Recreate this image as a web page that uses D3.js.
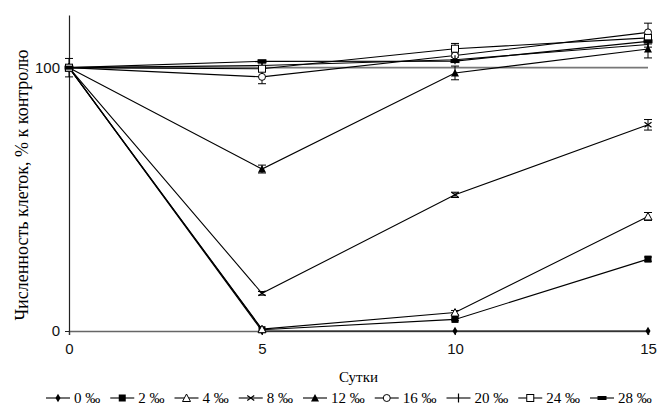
<!DOCTYPE html>
<html>
<head>
<meta charset="utf-8">
<script src="https://cdn.jsdelivr.net/npm/d3@7"></script>
<style>
  body { margin: 0; background: #fff; }
  svg { font-family: "Liberation Serif", "Times New Roman", serif; }
</style>
</head>
<body>
<svg id="chart" width="658" height="414"></svg>
<script>
// days on x, cell count as % of control on y
const days = [0, 5, 10, 15];
const seriesNames = ["0 ‰", "2 ‰", "4 ‰", "8 ‰", "12 ‰", "16 ‰", "20 ‰", "24 ‰", "28 ‰"];
const markerTypes = ["diamond", "square", "triangleOpen", "cross", "triangle", "circleOpen", "plus", "squareOpen", "dash"];

const s0  = [100, 0,    0,     0];
const s2  = [100, 0.5,  4.4,   27.3];
const s4  = [100, 0.7,  7.0,   43.5];
const s8  = [100, 14.3, 51.7,  78.3];
const s12 = [100, 61.5, 98.0,  107.1];
const s16 = [100, 96.5, 104.6, 113.4];
const s20 = [100, 100.8, 103.0, 108.8];
const s24 = [100, 99.6, 107.2, 111.3];
const s28 = [100, 102.4, 102.5, 110.0];

const e0  = [0, 0, 0, 0];
const e2  = [0, 0, 0.5, 0.8];
const e4  = [0, 0, 0.8, 1.5];
const e8  = [0, 0.7, 1.0, 2.0];
const e12 = [3.5, 1.5, 2.6, 3.4];
const e16 = [0, 2.6, 1.5, 3.5];
const e20 = [0, 1.0, 1.0, 1.0];
const e24 = [0, 1.0, 2.0, 1.0];
const e28 = [0, 0.5, 0.5, 1.0];

const yTicks = [0, 100];
const xTicks = [0, 5, 10, 15];

const allValues = [s0, s2, s4, s8, s12, s16, s20, s24, s28];
const allErrors = [e0, e2, e4, e8, e12, e16, e20, e24, e28];

const svg = d3.select("#chart");
const margin = { top: 15, left: 69, right: 648, bottom: 331 };

const x = d3.scaleLinear().domain([0, 15]).range([margin.left, margin.right]);
const y = d3.scaleLinear().domain([0, 120]).range([margin.bottom, margin.top]);

const series = seriesNames.map((name, i) => ({
  name, marker: markerTypes[i],
  points: days.map((d, j) => ({ day: d, value: allValues[i][j], err: allErrors[i][j] }))
}));

// control line at 100
svg.append("line")
  .attr("x1", x(0)).attr("x2", x(15))
  .attr("y1", y(100)).attr("y2", y(100))
  .attr("stroke", "#777").attr("stroke-width", 1.6);

// axes
const xAxis = svg.append("g")
  .attr("transform", `translate(0,${y(0)})`)
  .call(d3.axisBottom(x).tickValues(xTicks).tickSize(4).tickPadding(8));
xAxis.select(".domain").attr("stroke", "#666").attr("stroke-width", 1.6);
xAxis.selectAll("line").attr("stroke", "#333");
xAxis.selectAll("text").style("font-size", "15px").attr("fill", "#111");

const yAxis = svg.append("g")
  .attr("transform", `translate(${x(0)},0)`)
  .call(d3.axisLeft(y).tickValues(yTicks).tickSize(4).tickPadding(5).tickSizeOuter(0));
yAxis.select(".domain").attr("stroke", "#222").attr("stroke-width", 1.2);
yAxis.selectAll("line").attr("stroke", "#222");
yAxis.selectAll("text").style("font-size", "15px").attr("fill", "#111");

svg.append("text")
  .attr("x", (x(0) + x(15)) / 2)
  .attr("y", 382)
  .attr("text-anchor", "middle")
  .style("font-size", "15px")
  .text("Сутки");

svg.append("text")
  .attr("transform", "rotate(-90)")
  .attr("x", -185)
  .attr("y", 28)
  .attr("text-anchor", "middle")
  .style("font-size", "18px")
  .text("Численность клеток, % к контролю");

const line = d3.line().x(d => x(d.day)).y(d => y(d.value));

function drawMarker(g, type) {
  const s = 3.5;
  switch (type) {
    case "diamond":
      g.append("path").attr("d", d3.symbol(d3.symbolDiamond, 22)()).attr("fill", "#000");
      break;
    case "square":
      g.append("rect").attr("x", -s).attr("y", -s).attr("width", 2 * s).attr("height", 2 * s).attr("fill", "#000");
      break;
    case "squareOpen":
      g.append("rect").attr("x", -s).attr("y", -s).attr("width", 2 * s).attr("height", 2 * s)
        .attr("fill", "#fff").attr("stroke", "#000").attr("stroke-width", 1);
      break;
    case "triangle":
      g.append("path").attr("d", `M0,${-s - 0.5}L${s + 0.5},${s}L${-s - 0.5},${s}Z`).attr("fill", "#000");
      break;
    case "triangleOpen":
      g.append("path").attr("d", `M0,${-s - 0.5}L${s + 0.5},${s}L${-s - 0.5},${s}Z`)
        .attr("fill", "#fff").attr("stroke", "#000").attr("stroke-width", 1);
      break;
    case "circleOpen":
      g.append("circle").attr("r", s).attr("fill", "#fff").attr("stroke", "#000").attr("stroke-width", 1);
      break;
    case "cross":
      g.append("path").attr("d", `M${-s},${-s + 1}L${s},${s - 1}M${-s},${s - 1}L${s},${-s + 1}`)
        .attr("stroke", "#000").attr("stroke-width", 1.2);
      break;
    case "plus":
      g.append("path").attr("d", `M0,${-s - 1}L0,${s + 1}`).attr("stroke", "#000").attr("stroke-width", 1.2);
      break;
    case "dash":
      g.append("rect").attr("x", -s - 1).attr("y", -2).attr("width", 2 * s + 2).attr("height", 4).attr("fill", "#000");
      break;
  }
}

const plot = svg.append("g");

series.forEach(sr => {
  plot.append("path")
    .datum(sr.points)
    .attr("d", line)
    .attr("fill", "none")
    .attr("stroke", "#000")
    .attr("stroke-width", 1.1);
});

// error bars
series.forEach(sr => {
  sr.points.filter(p => p.err > 0).forEach(p => {
    const cx = x(p.day);
    const g = plot.append("g").attr("stroke", "#000").attr("stroke-width", 1);
    g.append("line").attr("x1", cx).attr("x2", cx).attr("y1", y(p.value + p.err)).attr("y2", y(p.value - p.err));
    g.append("line").attr("x1", cx - 4).attr("x2", cx + 4).attr("y1", y(p.value + p.err)).attr("y2", y(p.value + p.err));
    g.append("line").attr("x1", cx - 4).attr("x2", cx + 4).attr("y1", y(p.value - p.err)).attr("y2", y(p.value - p.err));
  });
});

series.forEach(sr => {
  sr.points.forEach(p => {
    const g = plot.append("g").attr("transform", `translate(${x(p.day)},${y(p.value)})`);
    drawMarker(g, sr.marker);
  });
});

// legend
const legend = svg.append("g").attr("transform", "translate(46,398)");
let lx = 0;
series.forEach(sr => {
  const item = legend.append("g").attr("transform", `translate(${lx},0)`);
  item.append("line").attr("x1", 0).attr("x2", 24).attr("y1", 0).attr("y2", 0)
    .attr("stroke", "#000").attr("stroke-width", 1.1);
  drawMarker(item.append("g").attr("transform", "translate(12,0)"), sr.marker);
  const t = item.append("text").attr("x", 28).attr("y", 5).style("font-size", "15px").text(sr.name);
  lx += 28 + t.node().getComputedTextLength() + 10;
});
</script>
</body>
</html>
